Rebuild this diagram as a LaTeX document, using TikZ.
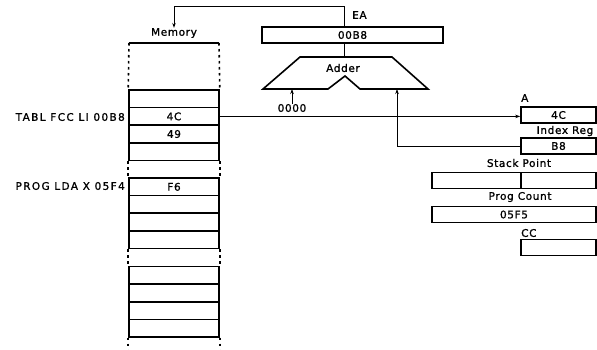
\documentclass[tikz,border=0pt]{standalone}
\usepackage{fontspec}
\setmainfont{DejaVu Sans}[LetterSpace=6,FakeBold=1.2]
\newfontfamily\widefont{DejaVu Sans}[LetterSpace=13,FakeBold=1.2]
\usetikzlibrary{arrows.meta}
\begin{document}
\begin{tikzpicture}[x=1pt,y=-1pt,
  txt/.style={font=\fontsize{10.5}{12}\selectfont},
  cell/.style={txt,draw,line width=1.6pt,minimum width=90pt,minimum height=17.6pt,inner sep=0pt},
  reg/.style={txt,draw,line width=1.6pt,minimum height=16pt,inner sep=0pt},
  lbl/.style={txt,inner sep=0pt},
  widelbl/.style={font=\widefont\fontsize{10.5}{12}\selectfont,inner sep=0pt,anchor=east},
  wire/.style={line width=0.8pt},
  arr/.style={wire,-{Stealth[length=5pt,width=3.5pt]}},
  dots/.style={line width=1.6pt,dash pattern=on 2.5pt off 3.5pt},
  thickline/.style={line width=1.6pt,line join=miter}]
\useasboundingbox (0,0) rectangle (597,349);

% memory column
\node[lbl] (memlbl) at (174,33) {Memory};
\draw[thickline] (129,43) -- (219,43);
\foreach \i/\y/\t in {1/98.8/,2/116.4/4C,3/134/49,4/151.6/,
                      5/186.8/F6,6/204.4/,7/222/,8/239.6/,
                      9/275.3/,10/292.9/,11/310.5/,12/328.1/}
  \node[cell] (m\i) at (174,\y) {\t};
\draw[dots] (129,43) -- (m1.north west);
\draw[dots] (219,43) -- (m1.north east);
\draw[dots] (m4.south west) -- (m5.north west);
\draw[dots] (m4.south east) -- (m5.north east);
\draw[dots] (m8.south west) -- (m9.north west);
\draw[dots] (m8.south east) -- (m9.north east);
\draw[dots] (m12.south west) -- ++(0,14);
\draw[dots] (m12.south east) -- ++(0,14);
\node[widelbl] (tabl) at (125,117) {TABL FCC LI 00B8};
\node[widelbl] (prog) at (125,186) {PROG LDA X 05F4};

% EA register and adder
\node[lbl,anchor=west] (ealbl) at (352,15) {EA};
\node[reg,minimum width=181pt] (ea) at (352.5,35) {00B8};
\coordinate (ad1) at (300,57);
\coordinate (ad2) at (392,57);
\coordinate (ad3) at (428,89);
\coordinate (ad4) at (360,89);
\coordinate (ad5) at (345,76);
\coordinate (ad6) at (328,89);
\coordinate (ad7) at (263,89);
\draw[thickline] (ad1) -- (ad2) -- (ad3) -- (ad4) -- (ad5) -- (ad6) -- (ad7) -- cycle;
\node[lbl] (adder) at (343,68) {Adder};
\coordinate (adtop) at (344,57);
\coordinate (adin) at (397,89);
\draw[arr] ([xshift=-8.5pt]ea.north) -- ++(0,-20) -| (memlbl.north);
\draw[wire] ([xshift=-8.5pt]ea.south) -- (adtop);
\node[lbl] (zero) at (292,108) {0000};
\draw[arr] (zero.north) -- (zero.north |- ad7);

% CPU registers
\node[lbl,anchor=west] (alab) at (521,98) {A};
\node[reg,minimum width=75pt] (areg) at (558.5,115) {4C};
\node[lbl] (ixlab) at (565,131) {Index Reg};
\node[reg,minimum width=75pt] (ix) at (558.5,146) {B8};
\node[lbl] (splab) at (519,163) {Stack Point};
\node[reg,minimum width=89pt] (sp1) at (476.5,180.5) {};
\node[reg,minimum width=75pt] (sp2) at (558.5,180.5) {};
\node[lbl] (pclab) at (520,197) {Prog Count};
\node[reg,minimum width=164pt] (pc) at (514,214.5) {05F5};
\node[lbl,anchor=west] (cclab) at (521,233) {CC};
\node[reg,minimum width=75pt] (cc) at (558.5,247.5) {};

% connectors
\draw[arr] (m2.east) -- (m2.east -| areg.west);
\draw[arr] (ix.west) -| (adin);
\end{tikzpicture}
\end{document}
